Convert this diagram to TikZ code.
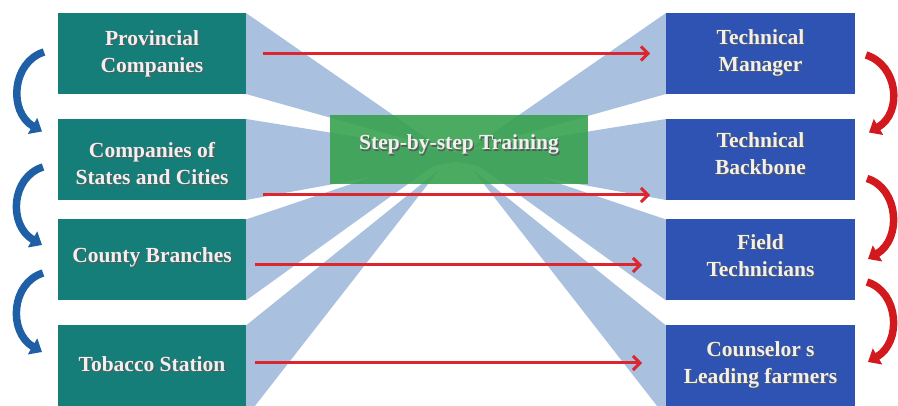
\documentclass[tikz,border=0pt]{standalone}
\usepackage{fontspec}
\setmainfont{Liberation Serif}
\usetikzlibrary{arrows.meta,calc}
\definecolor{tealbox}{HTML}{167E78}
\definecolor{bluebox}{HTML}{2E53B2}
\definecolor{fanblue}{HTML}{A9C1DE}
\definecolor{greenbox}{HTML}{38A24F}
\definecolor{boxtext}{HTML}{F0F0F0}
\definecolor{redline}{HTML}{DC2630}
\definecolor{redcurve}{HTML}{D2191E}
\definecolor{bluecurve}{HTML}{1E5FA5}
\newcommand\shd[1]{\leavevmode\rlap{\kern1.2pt\raisebox{-1.2pt}{\color{black!65}#1}}#1}
\tikzset{
  lbox/.style={fill=tealbox, minimum width=188pt, minimum height=81pt, inner sep=0pt, outer sep=0pt},
  rbox/.style={fill=bluebox, minimum width=189pt, minimum height=81pt, inner sep=0pt, outer sep=0pt},
  gbox/.style={fill=greenbox, fill opacity=0.9, minimum width=258pt, minimum height=69pt, inner sep=0pt, outer sep=0pt},
  btext/.style={text=boxtext, align=center, font=\bfseries\fontsize{21.5}{26.5}\selectfont, inner sep=0pt},
  fan/.style={fill=fanblue},
  redarr/.style={draw=redline, line width=3pt, -{Straight Barb[length=7pt,width=14pt]}},
  bluearc/.style={draw=bluecurve, line width=7.5pt, -{Triangle[length=11pt,width=18pt]}},
  redarc/.style={draw=redcurve, line width=7.5pt, -{Triangle[length=11pt,width=18pt]}},
}
\begin{document}
\begin{tikzpicture}[x=1pt, y=-1pt]
\useasboundingbox (0,0) rectangle (898,406);
\clip (0,0) rectangle (898,406);
\fill[white] (0,0) rectangle (898,406);

% boxes (placed first for anchors, drawn later on top)
\path
  (152,53.5) node[lbox] (L1) {}
  (152,159.5) node[lbox] (L2) {}
  (152,260) node[lbox] (L3) {}
  (152,366) node[lbox] (L4) {}
  (760.5,53.5) node[rbox] (R1) {}
  (760.5,159.5) node[rbox] (R2) {}
  (760.5,260) node[rbox] (R3) {}
  (760.5,366) node[rbox] (R4) {};

% fans
\fill[fan] (L1.north east) -- (L1.south east) -- (442,149) -- cycle;
\fill[fan] (L2.north east) -- (L2.south east) -- (482,157) -- cycle;
\fill[fan] (L3.north east) -- (L3.south east) -- (458,148) -- cycle;
\fill[fan] (L4.north east) -- (439,170) -- (244,420) -- (246,420) -- cycle;
\fill[fan] (R1.north west) -- (R1.south west) -- (470,149) -- cycle;
\fill[fan] (R2.north west) -- (R2.south west) -- (430,157) -- cycle;
\fill[fan] (R3.north west) -- (R3.south west) -- (454,148) -- cycle;
\fill[fan] (R4.north west) -- (473,170) -- (668,420) -- (666,420) -- cycle;

% redraw boxes on top
\path
  (152,53.5) node[lbox] {}
  (152,159.5) node[lbox] {}
  (152,260) node[lbox] {}
  (152,366) node[lbox] {}
  (760.5,53.5) node[rbox] {}
  (760.5,159.5) node[rbox] {}
  (760.5,260) node[rbox] {}
  (760.5,366) node[rbox] {};

% green centre box
\node[gbox] (G) at (459,149.5) {};
\node[btext] (Gt) at ($(G.center)+(0,-4)$) {\shd{Step-by-step Training}};

% box texts
\node[btext] (L1t) at ($(L1.center)+(0,0.8)$) {\shd{Provincial}\\\shd{Companies}};
\node[btext] (L2t) at ($(L2.center)+(0,4.5)$) {\shd{Companies of}\\\shd{States and Cities}};
\node[btext] (L3t) at ($(L3.center)+(0,-2)$) {\shd{County Branches}};
\node[btext] (L4t) at ($(L4.center)+(0,-1.3)$) {\shd{Tobacco Station}};
\node[btext] (R1t) at ($(R1.center)+(0,0)$) {\shd{Technical}\\\shd{Manager}};
\node[btext] (R2t) at ($(R2.center)+(0,-5.5)$) {\shd{Technical}\\\shd{Backbone}};
\node[btext] (R3t) at ($(R3.center)+(0,-4)$) {\shd{Field}\\\shd{Technicians}};
\node[btext] (R4t) at ($(R4.center)+(0,-0.7)$) {\shd{Counselor s}\\\shd{Leading farmers}};

% red straight arrows
\draw[redarr] ($(L1.east)+(17,0)$) -- ($(R1.west)+(-16,0)$);
\draw[redarr] ($(L2.south east)+(17,-5)$) -- ($(R2.south west)+(-16,-5)$);
\draw[redarr] ($(L3.east)+(9,5)$) -- ($(R3.west)+(-24,5)$);
\draw[redarr] ($(L4.east)+(9,-3)$) -- ($(R4.west)+(-24,-3)$);

% blue curved arrows (left)
\draw[bluearc] ($(L1.west)+(-14,-1.5)$) .. controls +(-32,10) and +(-34,-20) .. ($(L2.west)+(-16,-28)$);
\draw[bluearc] ($(L2.west)+(-15,7.5)$) .. controls +(-32,10) and +(-34,-20) .. ($(L3.west)+(-16,-15)$);
\draw[bluearc] ($(L3.west)+(-15,13)$) .. controls +(-32,10) and +(-34,-20) .. ($(L4.west)+(-16,-14)$);

% red curved arrows (right)
\draw[redarc] ($(R1.east)+(11,1.5)$) .. controls +(32,10) and +(34,-20) .. ($(R2.east)+(14,-27)$);
\draw[redarc] ($(R2.east)+(12,19)$) .. controls +(32,10) and +(34,-20) .. ($(R3.east)+(13,-1)$);
\draw[redarc] ($(R3.east)+(12,22)$) .. controls +(32,10) and +(34,-20) .. ($(R4.east)+(13,-4)$);
\end{tikzpicture}
\end{document}
